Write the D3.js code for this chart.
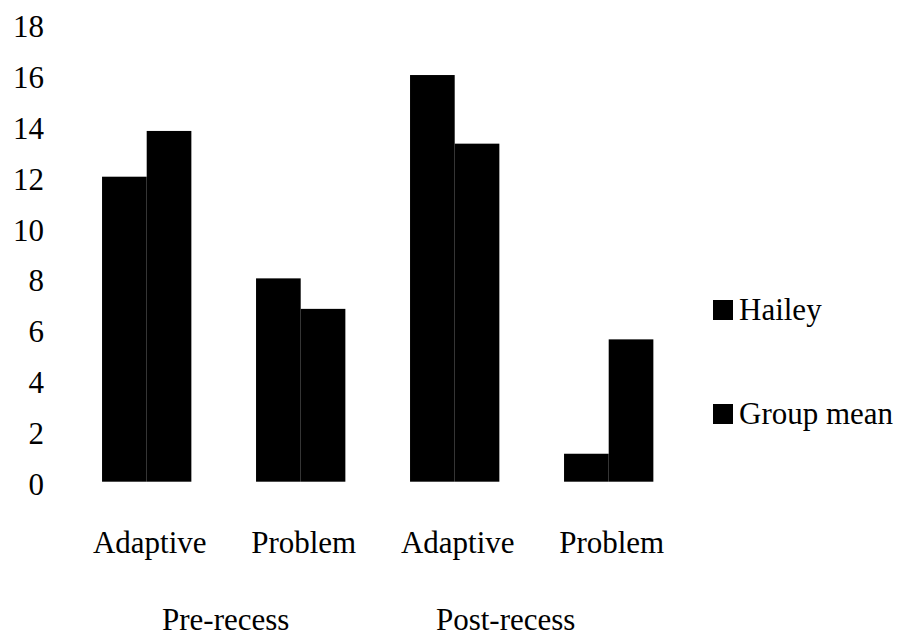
<!DOCTYPE html>
<html>
<head>
<meta charset="UTF-8">
<script src="https://d3js.org/d3.v7.min.js"></script>
</head>
<body style="margin:0">
<script>
const categories = ["Pre-Adaptive", "Pre-Problem", "Post-Adaptive", "Post-Problem"];
const categoryLabels = ["Adaptive", "Problem", "Adaptive", "Problem"];
const groups = ["Pre-recess", "Post-recess"];
const series = ["Hailey", "Group mean"];
const hailey = [12, 8, 16, 1.1];
const groupMean = [13.8, 6.8, 13.3, 5.6];
const yTicks = [0, 2, 4, 6, 8, 10, 12, 14, 16, 18];

const width = 898, height = 637;
const fontSize = 31;

const rows = categories.map((c, i) => ({ cat: c, values: [hailey[i], groupMean[i]] }));

const svg = d3.select("body").append("svg")
    .attr("width", width)
    .attr("height", height);

const y = d3.scaleLinear()
    .domain([0, 18])
    .range([481.7, 24.2]);

const x0 = d3.scaleBand()
    .domain(categories)
    .range([69.7, 685.7])
    .paddingInner(0.42)
    .paddingOuter(0.21);

const x1 = d3.scaleBand()
    .domain(series)
    .range([0, x0.bandwidth()]);

// bars
svg.append("g")
  .selectAll("g").data(rows).join("g")
    .attr("transform", d => `translate(${x0(d.cat)},0)`)
  .selectAll("rect").data(d => d.values.map((v, j) => ({ s: series[j], v }))).join("rect")
    .attr("x", d => x1(d.s))
    .attr("y", d => y(d.v))
    .attr("width", x1.bandwidth())
    .attr("height", d => y(0) - y(d.v))
    .attr("fill", "#000");

// text straight on the svg, anchored by hand
function label(tx, ty, str, anchor) {
  const t = svg.append("text")
    .attr("x", tx)
    .attr("y", ty)
    .style("font-family", `"Liberation Serif", "Times New Roman", serif`)
    .style("font-size", fontSize + "px")
    .text(str);
  const len = t.node().getComputedTextLength();
  if (anchor === "end") t.attr("x", tx - len);
  if (anchor === "middle") t.attr("x", tx - len / 2);
}

// y tick labels (no axis line, no ticks)
yTicks.forEach(t => label(44, y(t) + 2.5 + fontSize * 0.34, String(t), "end"));

// category labels
categories.forEach((c, i) => label(x0(c) + x0.bandwidth() / 2 + 3, 553, categoryLabels[i], "middle"));

// group labels
const groupShift = [2, -26];
groups.forEach((g, i) => {
  const a = x0(categories[i * 2]);
  const b = x0(categories[i * 2 + 1]) + x0.bandwidth();
  label((a + b) / 2 + groupShift[i], 630, g, "middle");
});

// legend
const legendY = [310, 414];
series.forEach((s, i) => {
  svg.append("rect")
    .attr("x", 713)
    .attr("y", legendY[i] - 10)
    .attr("width", 20)
    .attr("height", 20)
    .attr("fill", "#000");
  label(739, legendY[i] + fontSize * 0.33, s, "start");
});
</script>
</body>
</html>
